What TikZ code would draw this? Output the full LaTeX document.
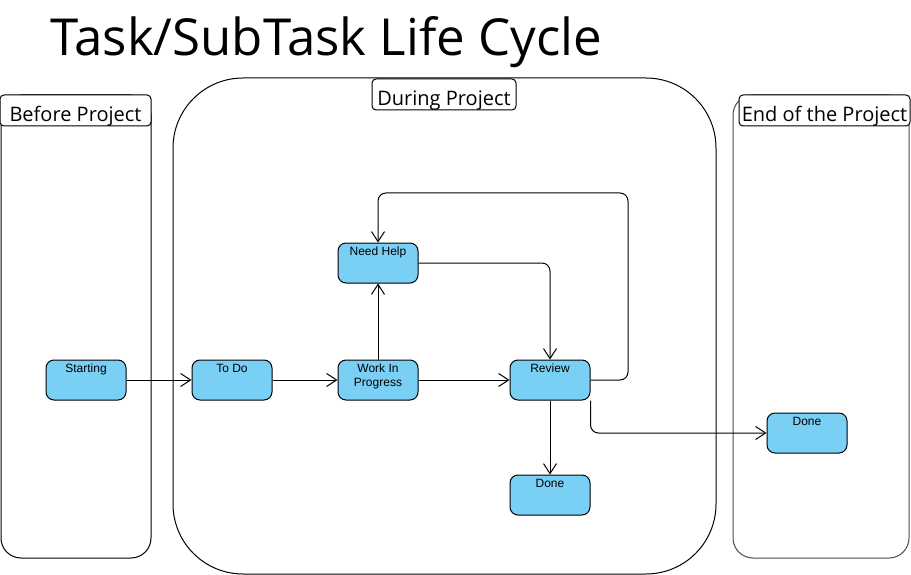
\documentclass[tikz,border=0pt]{standalone}
\usepackage{fontspec}
\setmainfont{Liberation Sans}
\newfontfamily\headfont{Open Sans}
\usetikzlibrary{arrows.meta}
\definecolor{statefill}{HTML}{7ACFF5}
\tikzstyle{state} = [rectangle, rounded corners=8pt, minimum width=80pt, draw=black, line width=1pt, fill=statefill, align=center, text height=10pt, text depth=26pt, inner sep=2pt, font=\fontsize{12}{14}\selectfont]
\tikzstyle{lane} = [rectangle, rounded corners=20pt, draw=black, line width=1pt, inner sep=0pt]
\tikzstyle{lanehead} = [rectangle, rounded corners=4pt, draw=black, fill=white, line width=1pt, inner sep=0pt, text height=26.5pt, text depth=4.5pt, font=\headfont\fontsize{20}{24}\selectfont]
\begin{document}
\begin{tikzpicture}[x=1pt,y=-1pt]
        \useasboundingbox (0,0) rectangle (911,575);
        \node[anchor=base west, inner sep=0pt, font=\headfont\fontsize{51}{60}\selectfont] (title) at (50,56) {Task/SubTask Life Cycle};
        % swim lanes
        \node[lane, minimum width=150pt, minimum height=463pt] (before) at (76,326.5) {};
        \node[lane, rounded corners=70pt, minimum width=543pt, minimum height=496pt] (during) at (444.5,326) {};
        \node[lane, draw=black!70, minimum width=176pt, minimum height=463pt] (end) at (821,326.5) {};
        \node[lanehead, minimum width=151pt] (beforehead) at (75.5,110.5) {Before Project};
        \node[lanehead, minimum width=144pt] (duringhead) at (444,94.5) {During Project};
        \node[lanehead, minimum width=171pt] (endhead) at (824.5,110.5) {End of the Project};
        % states
        \node[state] (start) at (86,380) {Starting};
        \node[state] (todo) at (232,380) {To Do};
        \node[state, text height=24pt, text depth=12pt] (wip) at (378,380) {Work In\\Progress};
        \node[state] (help) at (378,263) {Need Help};
        \node[state] (review) at (550,380) {Review};
        \node[state] (donein) at (550,495) {Done};
        \node[state] (doneend) at (807,433) {Done};
        \coordinate (loop) at (628,193);
        \begin{scope}[-{Straight Barb[length=10pt,width=13pt]}, line width=1pt, rounded corners=8pt]
            \draw (start) -- (todo);
            \draw (todo) -- (wip);
            \draw (wip) -- (help);
            \draw (wip) -- (review);
            \draw (help.east) -| (review.north);
            \draw (review.east) -| (loop) -| (help.north);
            \draw (review) -- (donein);
            \draw (review.south east) |- (doneend.west);
        \end{scope}
    \end{tikzpicture}
\end{document}
